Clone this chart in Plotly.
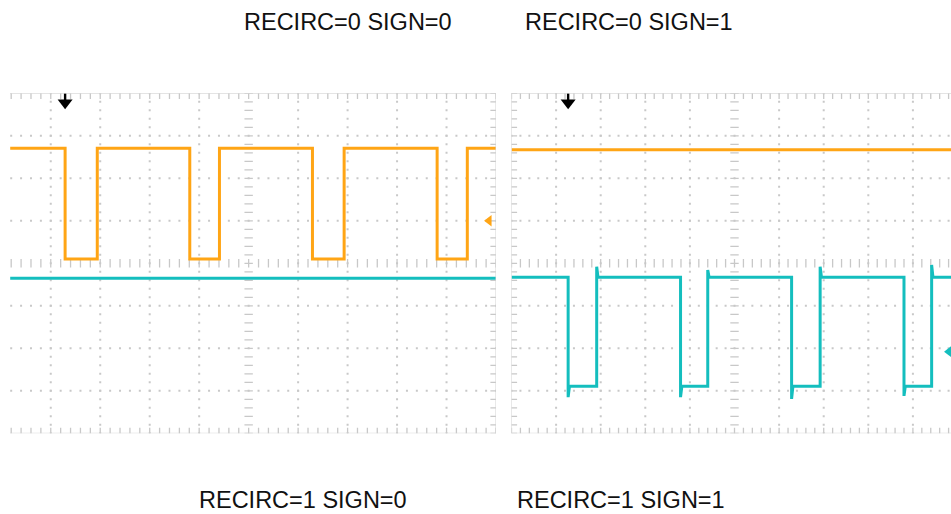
import numpy as np
import plotly.graph_objects as go

# ---------------- data (divisions) ----------------
titles_top = ["RECIRC=0 SIGN=0", "RECIRC=0 SIGN=1"]
titles_bottom = ["RECIRC=1 SIGN=0", "RECIRC=1 SIGN=1"]

# Left panel (RECIRC=0 SIGN=0 scope capture)
left_orange_x = [0.18, 1.29, 1.29, 1.94, 1.94, 3.81, 3.81, 4.41, 4.41, 6.29, 6.29, 6.93, 6.93,
                 8.81, 8.81, 9.42, 9.42, 10.0]
left_orange_y = [2.71, 2.71, 0.10, 0.10, 2.71, 2.71, 0.10, 0.10, 2.71, 2.71, 0.10, 0.10, 2.71,
                 2.71, 0.10, 0.10, 2.71, 2.71]
left_teal_x = [0.18, 10.0]
left_teal_y = [-0.35, -0.35]

# Right panel (RECIRC=0 SIGN=1 scope capture)
right_orange_x = [0.0, 9.86]
right_orange_y = [2.67, 2.67]
right_teal_x = [0.0, 1.27, 1.27, 1.30, 1.91, 1.91, 1.94, 3.79, 3.79, 3.82, 4.40, 4.40, 4.43,
                6.28, 6.28, 6.31, 6.92, 6.92, 6.95, 8.80, 8.80, 8.83, 9.42, 9.42, 9.45, 9.86]
right_teal_y = [-0.33, -0.33, -3.15, -2.89, -2.89, -0.08, -0.33, -0.33, -3.15, -2.89, -2.89, -0.16, -0.33,
                -0.33, -3.19, -2.89, -2.89, -0.08, -0.33, -0.33, -3.12, -2.89, -2.89, -0.04, -0.33, -0.33]

trigger_x = [1.29, 1.27]
level_marker_x = [9.86, 9.81]
level_marker_y = [1.0, -2.08]

ORANGE = "#FFA515"
TEAL = "#14BEBE"
GRID = "#c8c8c8"
BORDER = "#d2d2d2"

W, H = 951, 514
PX_TOP, PX_BOT = 93.3, 433.3
ydom = [1 - PX_BOT / H, 1 - PX_TOP / H]
px_per_div_y = (PX_BOT - PX_TOP) / 8.0

L_X0, L_X1 = 0.176, 10.0
R_X0, R_X1 = 0.0, 9.854

fig = go.Figure()


def grid(xa, ya, x0, x1):
    ys = np.round(np.arange(-4, 4.001, 0.2), 3)
    xs = [v for v in np.round(np.arange(0, 10.001, 0.2), 3) if x0 <= v <= x1]
    vx, vy = [], []
    for gx in [1, 2, 3, 4, 6, 7, 8, 9]:
        if x0 <= gx <= x1:
            for yy in ys:
                vx.append(gx); vy.append(yy)
    for gy in [-3, -2, -1, 1, 2, 3]:
        for xx in xs:
            vx.append(xx); vy.append(gy)
    fig.add_trace(go.Scatter(x=vx, y=vy, mode="markers", xaxis=xa, yaxis=ya,
                             marker=dict(symbol="square", size=2, color=GRID),
                             hoverinfo="skip", showlegend=False))
    fig.add_trace(go.Scatter(x=xs, y=[0] * len(xs), mode="markers", xaxis=xa, yaxis=ya,
                             marker=dict(symbol="line-ns", size=6, line=dict(width=1.3, color=GRID)),
                             hoverinfo="skip", showlegend=False))
    fig.add_trace(go.Scatter(x=xs + xs, y=[4] * len(xs) + [-4] * len(xs), mode="markers",
                             xaxis=xa, yaxis=ya,
                             marker=dict(symbol="line-ns", size=8, line=dict(width=1.3, color=GRID)),
                             hoverinfo="skip", showlegend=False))
    fig.add_trace(go.Scatter(x=[5] * len(ys), y=ys, mode="markers", xaxis=xa, yaxis=ya,
                             marker=dict(symbol="line-ew", size=6, line=dict(width=1.2, color=GRID)),
                             hoverinfo="skip", showlegend=False))


grid("x", "y", L_X0, L_X1)
grid("x2", "y2", R_X0, R_X1)

ys_all = list(np.round(np.arange(-4, 4.001, 0.2), 3))
fig.add_trace(go.Scatter(x=[10] * len(ys_all), y=ys_all, mode="markers", xaxis="x", yaxis="y",
                         marker=dict(symbol="line-ew", size=8, line=dict(width=1.3, color=GRID)),
                         hoverinfo="skip", showlegend=False))
fig.add_trace(go.Scatter(x=[0] * len(ys_all), y=ys_all, mode="markers", xaxis="x2", yaxis="y2",
                         marker=dict(symbol="line-ew", size=8, line=dict(width=1.3, color=GRID)),
                         hoverinfo="skip", showlegend=False))

for xs_, ys_, col, xa, ya in [
    (left_teal_x, left_teal_y, TEAL, "x", "y"),
    (left_orange_x, left_orange_y, ORANGE, "x", "y"),
    (right_orange_x, right_orange_y, ORANGE, "x2", "y2"),
    (right_teal_x, right_teal_y, TEAL, "x2", "y2"),
]:
    fig.add_trace(go.Scatter(x=xs_, y=ys_, mode="lines", xaxis=xa, yaxis=ya,
                             line=dict(color=col, width=3), hoverinfo="skip", showlegend=False))

for tx, xa, ya in [(trigger_x[0], "x", "y"), (trigger_x[1], "x2", "y2")]:
    fig.add_trace(go.Scatter(x=[tx], y=[4 - 3 / px_per_div_y], mode="markers", xaxis=xa, yaxis=ya,
                             marker=dict(symbol="line-ns", size=8, line=dict(width=2.4, color="black")),
                             hoverinfo="skip", showlegend=False))
    fig.add_trace(go.Scatter(x=[tx], y=[4 - 9.5 / px_per_div_y], mode="markers", xaxis=xa, yaxis=ya,
                             marker=dict(symbol="triangle-down", size=13, color="black"),
                             hoverinfo="skip", showlegend=False))

fig.add_trace(go.Scatter(x=[level_marker_x[0]], y=[level_marker_y[0]], mode="markers", xaxis="x", yaxis="y",
                         marker=dict(symbol="triangle-left", size=10, color=ORANGE),
                         hoverinfo="skip", showlegend=False))
fig.add_trace(go.Scatter(x=[level_marker_x[1]], y=[level_marker_y[1]], mode="markers", xaxis="x2", yaxis="y2",
                         marker=dict(symbol="triangle-left", size=10, color=TEAL),
                         hoverinfo="skip", showlegend=False))

shapes = []
for x0, x1, xr, yr in [(L_X0, L_X1, "x", "y"), (R_X0, R_X1, "x2", "y2")]:
    for yy in (4, -4):
        shapes.append(dict(type="line", xref=xr, yref=yr, x0=x0, x1=x1, y0=yy, y1=yy,
                           line=dict(color=BORDER, width=1)))
shapes.append(dict(type="line", xref="x", yref="y", x0=10, x1=10, y0=-4, y1=4,
                   line=dict(color=BORDER, width=1)))
shapes.append(dict(type="line", xref="x2", yref="y2", x0=0, x1=0, y0=-4, y1=4,
                   line=dict(color=BORDER, width=1)))

annotations = []
for txt, cx, cy in [(titles_top[0], 347.5, 22.0), (titles_top[1], 629.3, 22.0),
                    (titles_bottom[0], 302.8, 499.5), (titles_bottom[1], 620.8, 499.5)]:
    annotations.append(dict(text=txt, x=cx / W, y=1 - cy / H, xref="paper", yref="paper",
                            xanchor="center", yanchor="middle", showarrow=False,
                            font=dict(family="Liberation Sans, Arial, sans-serif", size=23.5, color="#111111")))

ax_common = dict(visible=False, showgrid=False, zeroline=False, fixedrange=True)
fig.update_layout(
    width=W, height=H,
    margin=dict(l=0, r=0, t=0, b=0),
    paper_bgcolor="white", plot_bgcolor="white",
    xaxis=dict(domain=[10 / W, 496 / W], range=[L_X0, L_X1], anchor="y", **ax_common),
    yaxis=dict(domain=ydom, range=[-4, 4], anchor="x", **ax_common),
    xaxis2=dict(domain=[511.5 / W, 1.0], range=[R_X0, R_X1], anchor="y2", **ax_common),
    yaxis2=dict(domain=ydom, range=[-4, 4], anchor="x2", **ax_common),
    shapes=shapes, annotations=annotations, showlegend=False,
)

fig.write_html("out.html", config={"displayModeBar": False},
               post_script="document.body.style.margin='0px';document.body.style.overflow='hidden';")
